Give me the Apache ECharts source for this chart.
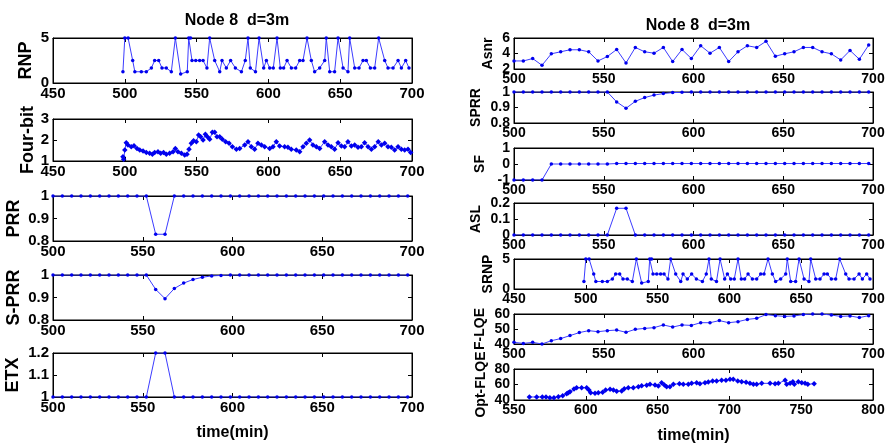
<!DOCTYPE html>
<html><head><meta charset="utf-8">
<script src="https://cdn.jsdelivr.net/npm/echarts@6/dist/echarts.min.js"></script>
<style>html,body{margin:0;padding:0;background:#fff}#c{width:888px;height:446px}</style>
</head><body><div id="c"></div>
<script>
// ---------- DATA ----------
const t5 = [500,505.2,510.4,515.6,520.8,526,531.2,536.4,541.6,546.8,552,557.2,562.4,567.6,572.8,578,583.2,588.4,593.6,598.8,604,609.2,614.4,619.6,624.8,630,635.2,640.4,645.6,650.8,656,661.2,666.4,671.6,676.8,682,687.2,692.4,697.6];
const prrV  = [1,1,1,1,1,1,1,1,1,1,1,0.83,0.83,1,1,1,1,1,1,1,1,1,1,1,1,1,1,1,1,1,1,1,1,1,1,1,1,1,1];
const sprrV = [1,1,1,1,1,1,1,1,1,1,1,0.936,0.895,0.94,0.964,0.98,0.99,0.996,0.998,1,1,1,1,1,1,1,1,1,1,1,1,1,1,1,1,1,1,1,1];
const etxV  = [1,1,1,1,1,1,1,1,1,1,1,1.2,1.2,1,1,1,1,1,1,1,1,1,1,1,1,1,1,1,1,1,1,1,1,1,1,1,1,1,1];
const aslV  = [0,0,0,0,0,0,0,0,0,0,0,0.167,0.167,0,0,0,0,0,0,0,0,0,0,0,0,0,0,0,0,0,0,0,0,0,0,0,0,0,0];
const sfV   = [-1,-1,-1,-1,0,0,0,0,0,0,0,0.03,0.03,0.03,0.03,0.03,0.03,0.03,0.03,0.03,0.03,0.03,0.03,0.03,0.03,0.03,0.03,0.03,0.03,0.03,0.03,0.03,0.03,0.03,0.03,0.03,0.03,0.03,0.03];
const asnrV = [3.04,3.04,3.35,2.48,3.96,4.22,4.48,4.48,4.22,3.04,3.61,4.52,2.78,4.78,4.22,4.04,4.78,2.96,4.52,3.35,5.0,4.04,4.78,2.96,4.22,5.0,4.78,5.57,3.65,3.96,4.22,4.78,4.78,4.22,3.96,3.17,4.39,3.26,5.09];
const flqeV = [41.1,40.4,41.1,40,42.2,43.6,45.6,47.6,48.9,48.2,48.9,49.3,47.8,49.8,50.4,50.9,52.7,51.3,52.7,52.4,54.2,54.2,55.6,54.2,54.9,56.4,57.1,59.6,58.9,58.4,58.7,59.6,60,60,59.3,58.4,58.7,57.6,58.9];

const rnpT = [498.7,500,502.3,505.5,507,511.5,515,518.5,520.8,523.6,525.9,528.9,532.4,535.2,538.9,543.5,544.5,545.8,546.8,549.4,552.1,554.5,557.2,559.1,562.6,566.1,567.7,570.7,573.7,577,581.2,583.9,585.8,587.4,591,593.5,596.7,598.6,600.9,603.4,606,608.3,610.6,613,616,619,621.8,624.1,626.9,629.9,632.2,635.7,639.2,640.3,642.7,646.1,648.5,652,655.4,656.6,660.1,663.1,665.9,668.2,671,674,676.8,681,683.3,686.8,690.3,692.6,695.6,697.9];
const rnpV = [1.25,5,5,2.5,1.25,1.25,1.25,1.67,2.5,2.5,1.67,1.67,1.25,5,1,1.25,5,5,2.5,2.5,2.5,2.5,1.67,5,2.5,1.25,2.5,1.67,2.5,1.67,1.25,2.5,5,1.67,1.25,5,1.67,2.5,1.67,1.67,5,1.67,1.67,2.5,1.67,1.67,2.5,2.5,5,2.5,1.25,1.67,2.5,5,1.25,1.25,5,1.67,1.25,5,1.67,1.67,2.5,2.5,1.67,1.67,5,2.5,1.67,1.67,2.5,1.67,2.5,1.67];

const fourT = [498.7,499.2,500,501,502.2,504.5,506.4,508.5,510.4,512.7,515,517.3,519.2,520.8,523.1,525,527,528.9,531.2,533.6,535.2,537,539.4,541.7,543.3,544.7,546.3,547.9,549.8,551.4,552.8,554.5,556.1,557.5,559.1,561,562.6,564.2,566.1,567.9,570.2,572.6,574.9,577.7,580,583.5,585.8,588.1,590.4,592.7,595.1,597.4,600.9,603.2,605.5,607.8,611.3,613.6,615.9,619.4,621.8,624.1,626.4,628.7,631,633.4,635.7,639.2,641.5,643.8,646.1,648.5,650.8,653.1,655.4,657.8,660.1,662.4,664.7,667,669.4,671.7,674,676.5,678.7,681,683.3,685.6,687.9,690.3,692.6,694.9,697.2,699.1];
const fourV = [1.2,1.08,1.52,1.87,1.76,1.68,1.73,1.6,1.52,1.48,1.4,1.37,1.32,1.4,1.44,1.37,1.4,1.32,1.37,1.44,1.6,1.44,1.37,1.29,1.32,1.56,1.84,1.97,1.92,2.24,2.16,2.0,2.27,2.16,2.03,2.37,2.37,2.16,2.16,2.03,1.92,1.84,1.68,1.56,1.6,1.76,1.92,1.68,1.56,1.84,1.76,1.68,1.6,1.68,1.92,1.71,1.68,1.65,1.56,1.52,1.44,1.68,1.84,2.0,1.76,1.68,1.6,1.92,1.76,1.68,1.56,1.87,1.71,1.68,1.92,1.71,1.76,1.65,1.68,1.87,1.68,1.56,1.68,1.92,1.76,1.84,1.68,1.65,1.52,1.68,1.56,1.52,1.56,1.4];

const optT = [560.7,565.8,569.7,572.3,575,577.8,580.9,583.9,586.7,587.8,589,591.8,593.6,597.1,600.6,602.2,603.4,606.4,608.7,611.7,613.8,616.9,619.2,621.5,625,626.8,629.6,633.1,636.6,638.9,642.4,644.7,648.2,650.5,652.8,654.7,656.3,658.6,661,665.2,667.9,671.4,673.7,677.2,679.5,683,685.3,688.3,691.1,694.6,697.6,700.4,702.7,705.8,708.5,711.6,714.3,716.7,719,722.5,728.3,731.8,734.1,738.8,739.9,742.3,744.2,745.2,748,750.4,752.7,754.6,759];
const optV = [43.9,43.9,43.9,43.9,43,43,44.3,45.6,48.2,49.5,50.7,54.2,55.9,55.9,55.9,52.9,49.5,48.6,49.5,49.9,52.9,53.8,52.9,51.2,51.6,54.6,55.9,55.9,57.2,58.5,58.9,60.2,59.4,58.1,62.4,59.4,57.2,57.2,60.2,61.1,60.2,60.2,61.5,62.4,61.1,62.4,63.2,64.5,64.5,65.4,65.4,66.7,66.7,64.5,63.7,62.8,61.5,60.2,60.2,61.5,61.5,61.1,61.5,65.4,60.2,61.5,63.7,60.2,63.7,62.4,61.5,60.2,61.1];

// ---------- LAYOUT ----------
const FONT = "'Liberation Sans', Arial, sans-serif";
const LW = 359;
const panels = [
  {n:'RNP',      L:53,  T:38,  H:45, x:[450,700,50], y:[0,5,5],       t:rnpT, v:rnpV, gap:18, fs:15, nfs:18},
  {n:'Four-bit', L:53,  T:119, H:42, x:[450,700,50], y:[1,3,1],       t:fourT, v:fourV, gap:16, fs:15, nfs:18, star:true},
  {n:'PRR',      L:53,  T:196, H:45, x:[500,700,50], y:[0.8,1,0.1],   t:t5, v:prrV, gap:30, fs:15, nfs:18},
  {n:'S-PRR',    L:53,  T:275, H:45, x:[500,700,50], y:[0.8,1,0.1],   t:t5, v:sprrV, gap:30, fs:15, nfs:18},
  {n:'ETX',      L:53,  T:353, H:44, x:[500,700,50], y:[1,1.2,0.1],   t:t5, v:etxV, gap:31, fs:15, nfs:18, xname:true},
  {n:'Asnr',     L:514, T:38,  H:31, x:[500,700,50], y:[2,6,2],       t:t5, v:asnrV, gap:19, fs:14, nfs:14},
  {n:'SPRR',     L:514, T:92,  H:31, x:[500,700,50], y:[0.8,1,0.1],   t:t5, v:sprrV, gap:31, fs:14, nfs:14},
  {n:'SF',       L:514, T:148, H:32, x:[500,700,50], y:[-1,1,1],      t:t5, v:sfV, gap:27, fs:14, nfs:14},
  {n:'ASL',      L:514, T:203, H:32, x:[500,700,50], y:[0,0.2,0.1],   t:t5, v:aslV, gap:31, fs:14, nfs:14},
  {n:'SRNP',     L:514, T:259, H:30, x:[450,700,50], y:[0,5,5],       t:rnpT, v:rnpV, gap:19, fs:14, nfs:14},
  {n:'F-LQE',    L:514, T:314, H:30, x:[500,700,50], y:[40,60,10],    t:t5, v:flqeV, gap:27, fs:14, nfs:14},
  {n:'Opt-FLQE', L:514, T:369, H:31, x:[550,800,50], y:[40,80,20],    t:optT, v:optV, gap:26, fs:14, nfs:14, star:true, xname:true}
];

const grid = [], xAxis = [], yAxis = [], series = [];
const blk = {color:'#000', width:1};
panels.forEach((p, i) => {
  grid.push({left:p.L, top:p.T, width:LW, height:p.H, show:true, borderColor:'#000', borderWidth:1, backgroundColor:'#fff'});
  const lbl = {color:'#000', fontWeight:'bold', fontSize:p.fs, fontFamily:FONT};
  xAxis.push({type:'value', gridIndex:i, min:p.x[0], max:p.x[1], interval:p.x[2],
    axisLine:{show:true, onZero:false, lineStyle:blk}, axisTick:{show:true, inside:true, length:4, lineStyle:blk},
    axisLabel:Object.assign({margin:3, showMinLabel:true, showMaxLabel:true}, lbl), splitLine:{show:false},
    name: p.xname ? 'time(min)' : '', nameLocation:'middle', nameGap: p.xname ? 28 : 0,
    nameTextStyle:{color:'#000', fontWeight:'bold', fontSize:16, fontFamily:FONT}});
  xAxis.push({type:'value', gridIndex:i, position:'top', min:p.x[0], max:p.x[1], interval:p.x[2],
    axisLine:{show:true, onZero:false, lineStyle:blk}, axisTick:{show:true, inside:true, length:4, lineStyle:blk},
    axisLabel:{show:false}, splitLine:{show:false}});
  yAxis.push({type:'value', gridIndex:i, min:p.y[0], max:p.y[1], interval:p.y[2],
    axisLine:{show:true, onZero:false, lineStyle:blk}, axisTick:{show:true, inside:true, length:4, lineStyle:blk},
    axisLabel:Object.assign({margin:4}, lbl), splitLine:{show:false},
    name:p.n, nameLocation:'middle', nameRotate:90, nameGap:p.gap,
    nameTextStyle:{color:'#000', fontWeight:'bold', fontSize:p.nfs, fontFamily:FONT}});
  yAxis.push({type:'value', gridIndex:i, position:'right', min:p.y[0], max:p.y[1], interval:p.y[2],
    axisLine:{show:true, onZero:false, lineStyle:blk}, axisTick:{show:true, inside:true, length:4, lineStyle:blk},
    axisLabel:{show:false}, splitLine:{show:false}});
  series.push({type:'line', xAxisIndex:2*i, yAxisIndex:2*i,
    data:p.t.map((tt, k) => [tt, p.v[k]]),
    symbol: p.star ? 'diamond' : 'circle', symbolSize: p.star ? 5.5 : 3.5,
    lineStyle:{color:'#3c3cff', width:1}, itemStyle:{color:'#0000ee'},
    showSymbol:true, animation:false, clip:true});
});

const chart = echarts.init(document.getElementById('c'), null, {renderer:'canvas'});
chart.setOption({
  animation:false,
  backgroundColor:'#fff',
  title:[
    {text:'Node 8  d=3m', left:232, top:8, textAlign:'center', textStyle:{color:'#000', fontWeight:'bold', fontSize:16, fontFamily:FONT}},
    {text:'Node 8  d=3m', left:693, top:13, textAlign:'center', textStyle:{color:'#000', fontWeight:'bold', fontSize:16, fontFamily:FONT}}
  ],
  grid, xAxis, yAxis, series
});
</script></body></html>
